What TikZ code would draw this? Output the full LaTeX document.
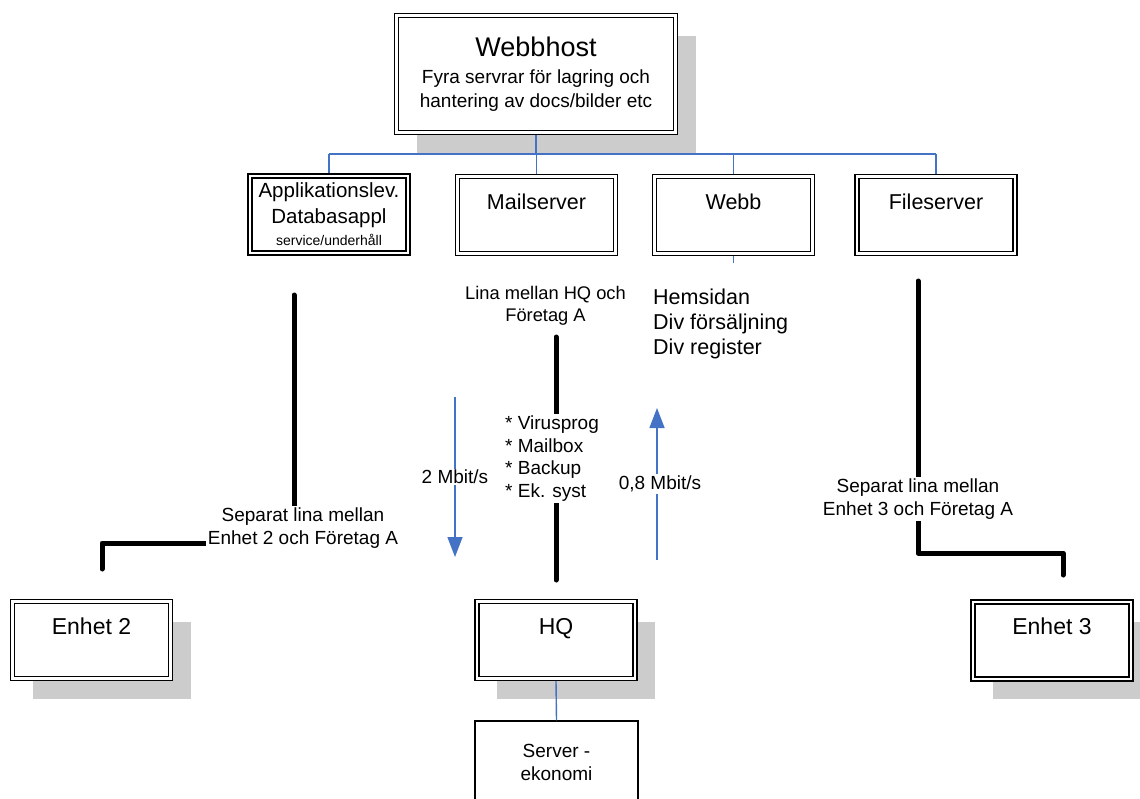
\documentclass[tikz,border=0pt]{standalone}
\usepackage{fontspec}
\setmainfont{Liberation Sans}
\usepackage{tikz}
\usetikzlibrary{positioning, arrows.meta, shadows}
\definecolor{linkblue}{RGB}{68,114,196}
\definecolor{shgray}{RGB}{204,204,204}

\begin{document}
\begin{tikzpicture}[x=1pt, y=-1pt,
  srv/.style={rectangle, draw=black, line width=1.5pt, double=white, double distance=2.2pt,
              fill=white, minimum width=158pt, minimum height=77pt, outer sep=2.6pt,
              inner sep=1pt, align=center, font=\fontsize{21.5}{25}\selectfont},
  srvsh/.style={srv, general shadow={fill=shgray, shadow xshift=20pt, shadow yshift=-20pt}},
  ttl/.style={text height=16pt, text depth=28pt},
  plain/.style={rectangle, draw=black, line width=1.4pt, fill=white,
                minimum width=163pt, minimum height=82pt,
                align=center, font=\fontsize{19}{23}\selectfont},
  tree/.style={draw=linkblue, line width=1.4pt},
  flow/.style={-{Triangle[width=15pt,length=20pt]}, draw=linkblue, line width=1.4pt},
  lina/.style={line width=5pt, line cap=round, line join=round},
  lbl/.style={fill=white, inner sep=1.5pt, align=center, font=\fontsize{19}{22.7}\selectfont}
]
\useasboundingbox (0,0) rectangle (1140,798);

% host and servers
\node[srvsh, minimum width=279pt, minimum height=117pt, font=\fontsize{19}{24}\selectfont] (host) at (536,74)
  {\fontsize{27}{30}\selectfont Webbhost\\[3pt]\fontsize{19}{24}\selectfont Fyra servrar för lagring och\\hantering av docs/bilder etc};

\node[srv, font=\fontsize{20.5}{26}\selectfont] (appl) at (329,214.5)
  {Applikationslev.\\Databasappl\\[-4pt]\fontsize{14}{17}\selectfont service/underhåll};
\node[srv, ttl] (mail) at (536.5,215) {Mailserver};
\node[srv, ttl] (webb) at (733.5,215) {Webb};
\node[srv, ttl] (file) at (936,215)   {Fileserver};

% units
\node[srvsh, ttl, font=\fontsize{23}{27}\selectfont] (enh2) at (91.5,640)  {Enhet 2};
\node[srvsh, ttl, font=\fontsize{23}{27}\selectfont] (hq)   at (556,640)   {HQ};
\node[srvsh, ttl, font=\fontsize{23}{27}\selectfont] (enh3) at (1052,640.5) {Enhet 3};
\node[plain] (srvek) at (556.5,762) {Server -\\ekonomi};

% texts
\node[anchor=west, inner sep=0pt, align=left, font=\fontsize{21.5}{25}\selectfont] (webbinfo) at (653,324)
  {Hemsidan\\Div försäljning\\Div register};
\node[lbl, fill=none, font=\fontsize{18.3}{22}\selectfont] (lina) at (545.5,306) {Lina mellan HQ och\\Företag A};

% blue tree
\coordinate (bus) at (536,154);
\draw[tree] (host.south) -- (bus);
\draw[tree] (bus -| appl.north) -- (bus -| file.north);
\foreach \n in {appl,mail,webb,file}
  \draw[tree] (bus -| \n.north) -- (\n.north);
\coordinate (webbtail) at (733.5,263);
\draw[tree] (webb.south) -- (webbtail);
\draw[tree] (hq.south) -- (srvek.north);

% lines
\coordinate (l2top)  at (294,295);
\coordinate (l2knee) at (102,543);
\coordinate (l2end)  at (102,569);
\draw[lina] (l2top) |- (l2knee) -- (l2end);
\node[lbl] (sep2) at (303,528) {Separat lina mellan\\Enhet 2 och Företag A};

\coordinate (r3top)  at (918,281);
\coordinate (r3knee) at (1063,553);
\coordinate (r3end)  at (1063,575);
\draw[lina] (r3top) |- (r3knee) -- (r3end);
\node[lbl] (sep3) at (918,499) {Separat lina mellan\\Enhet 3 och Företag A};

\coordinate (mtop) at (556,337);
\coordinate (mbot) at (556,580);
\draw[lina] (mtop) -- node[lbl, align=left, xshift=-4pt] (tasks)
  {* Virusprog\\* Mailbox\\* Backup\\* Ek. syst} (mbot);

% speeds
\coordinate (dnA) at (455,397);
\coordinate (dnB) at (455,557);
\draw[flow] (dnA) -- node[lbl] (down) {2 Mbit/s} (dnB);
\coordinate (upA) at (657,560);
\coordinate (upB) at (657,408);
\draw[flow] (upA) -- node[lbl, xshift=3pt] (up) {0,8 Mbit/s} (upB);

\end{tikzpicture}
\end{document}
